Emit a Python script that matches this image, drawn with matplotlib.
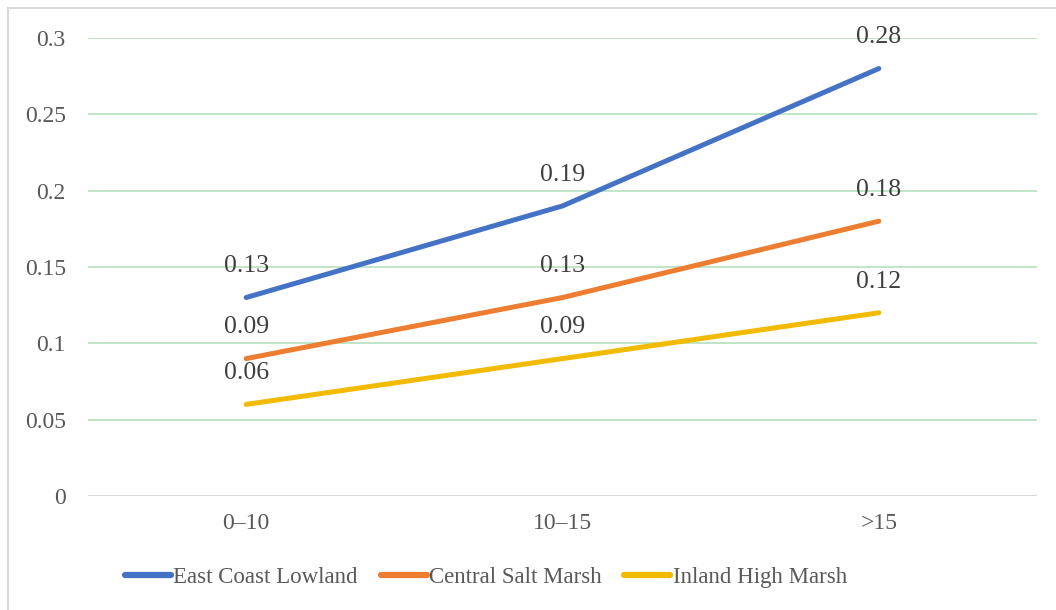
import matplotlib
matplotlib.use("Agg")
import matplotlib.pyplot as plt
from matplotlib.patches import Rectangle

categories = ["0\u201310", "10\u201315", ">15"]
east_coast = [0.13, 0.19, 0.28]
central_salt = [0.09, 0.13, 0.18]
inland_high = [0.06, 0.09, 0.12]
series_names = ["East Coast Lowland", "Central Salt Marsh", "Inland High Marsh"]
yticks = [0, 0.05, 0.1, 0.15, 0.2, 0.25, 0.3]
ytick_labels = ["0", "0.05", "0.1", "0.15", "0.2", "0.25", "0.3"]

colors = ["#4472C4", "#ED7D31", "#F2BA00"]

plt.rcParams["font.family"] = ["Liberation Serif", "DejaVu Serif"]

fig = plt.figure(figsize=(10.56, 6.10), dpi=100)
ax = fig.add_axes([88/1056, 1-496/610, (1037-88)/1056, (496-38)/610])

# chart border (only left and top visible in reference)
fig.patches.append(Rectangle((7.5/1056, -0.5), 2, 1.5 - 7.5/610, transform=fig.transFigure,
                             fill=False, edgecolor="#d9d9d9", linewidth=1.5))

x = list(range(len(categories)))
for vals, name, c in zip([east_coast, central_salt, inland_high], series_names, colors):
    ax.plot(x, vals, color=c, linewidth=3.6, solid_capstyle="round", label=name, zorder=3)
    for xi, v in zip(x, vals):
        ax.annotate(f"{v:g}", (xi, v), xytext=(0, 22.5), textcoords="offset points",
                    ha="center", va="center", fontsize=18.5, color="#404040", zorder=4)

ax.set_xlim(-0.5, len(categories) - 0.5)
ax.set_ylim(0, 0.3)
ax.set_xticks(x)
ax.set_xticklabels(categories)
ax.set_yticks(yticks)
ax.set_yticklabels(ytick_labels)
ax.tick_params(axis="both", length=0, labelsize=17, labelcolor="#595959")
ax.tick_params(axis="y", pad=16)
ax.tick_params(axis="x", pad=12)
for s in ax.spines.values():
    s.set_visible(False)
ax.yaxis.grid(True, color="#b5e0bd", linewidth=1.2, zorder=0)
ax.set_axisbelow(True)
ax.axhline(0, color="#d9d9d9", linewidth=1.5, zorder=1)

leg = fig.legend(loc="center", bbox_to_anchor=(486/1056, 1-577/610), ncol=3, frameon=False,
                 fontsize=16.5, handlelength=2.0, handletextpad=0.1, columnspacing=1.0,
                 labelcolor="#595959")
for h in leg.legend_handles:
    h.set_linewidth(4.5)

fig.savefig("out.png", dpi=100, facecolor="white")
